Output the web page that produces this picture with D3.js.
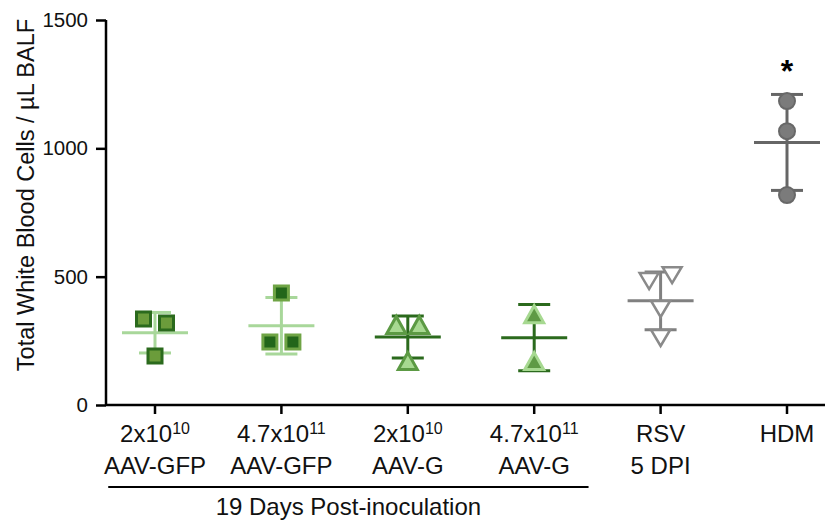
<!DOCTYPE html>
<html>
<head>
<meta charset="utf-8">
<script src="https://cdn.jsdelivr.net/npm/d3@7"></script>
<style>
  body { margin: 0; background: #fff; }
  svg { display: block; font-family: "Liberation Sans", Arial, Helvetica, sans-serif; }
</style>
</head>
<body>
<script>
// group labels (first line base + superscript, second line)
var labelBase = ["2x10", "4.7x10", "2x10", "4.7x10", "RSV", "HDM"];
var labelSup = ["10", "11", "10", "11", "", ""];
var labelLine2 = ["AAV-GFP", "AAV-GFP", "AAV-G", "AAV-G", "5 DPI", ""];

// individual animals, cells / uL BALF
var aavGfpLow = [335, 319, 191];
var aavGfpHigh = [436, 245, 245];
var aavGLow = [312, 312, 171];
var aavGHigh = [354, 171];
var rsv = [483, 506, 374, 261];
var hdm = [1184, 1067, 818];

var yTicks = [0, 500, 1000, 1500];
var bracketText = "19 Days Post-inoculation";
var yTitle = "Total White Blood Cells / \u00b5L BALF";

var seriesValues = [aavGfpLow, aavGfpHigh, aavGLow, aavGHigh, rsv, hdm];

// look of each group
var styles = [
  { shape: "square", fill: "#6b9c3b", stroke: "#2b6a1d", bar: "#a8d79a" },
  { shape: "square", fill: "#23661a", stroke: "#6fa445", bar: "#a8d79a" },
  { shape: "up", fill: "#a7d991", stroke: "#5c9a44", bar: "#2b6a1d" },
  { shape: "up", fill: "#5f9a45", stroke: "#a7d991", bar: "#2b6a1d" },
  { shape: "down", fill: "#ffffff", stroke: "#8a8a8a", bar: "#808080" },
  { shape: "circle", fill: "#7b7b7b", stroke: "#686868", bar: "#666666" }
];

var width = 825, height = 520;
var svg = d3.select("body").append("svg")
  .attr("width", width)
  .attr("height", height);

var x = d3.scalePoint().domain(d3.range(labelBase.length)).range([155, 787]);
var step = x.step();
var y = d3.scaleLinear().domain([0, 1500]).range([405, 20]);

// y axis
var yAxis = svg.append("g")
  .attr("transform", "translate(106,0)")
  .call(d3.axisLeft(y).tickValues(yTicks).tickFormat(d3.format("d")).tickSize(10).tickPadding(8));
yAxis.select(".domain").attr("stroke", "#000").attr("stroke-width", 2.5)
  .attr("d", "M0," + y(1500) + "V" + y(0));
yAxis.selectAll(".tick line").attr("stroke", "#000").attr("stroke-width", 2.5);
yAxis.selectAll(".tick text").attr("font-size", 20.5).attr("fill", "#111")
  .attr("font-family", "Liberation Sans, Arial, sans-serif");

// x axis line spans to the right edge
svg.append("line")
  .attr("x1", 106).attr("x2", width)
  .attr("y1", y(0)).attr("y2", y(0))
  .attr("stroke", "#000").attr("stroke-width", 2.5);

svg.selectAll(".xtick")
  .data(labelBase)
  .enter().append("line")
  .attr("class", "xtick")
  .attr("x1", function(d, i) { return x(i); })
  .attr("x2", function(d, i) { return x(i); })
  .attr("y1", y(0))
  .attr("y2", y(0) + 9)
  .attr("stroke", "#000").attr("stroke-width", 2.5);

// x labels, with superscript exponent
var lab1 = svg.selectAll(".lab1")
  .data(labelBase)
  .enter().append("text")
  .attr("class", "lab1")
  .attr("x", function(d, i) { return x(i); })
  .attr("y", 442)
  .attr("text-anchor", "middle")
  .attr("font-size", 24)
  .attr("fill", "#111");
lab1.append("tspan").text(function(d) { return d; });
lab1.append("tspan")
  .attr("font-size", 16)
  .attr("dy", -8)
  .text(function(d, i) { return labelSup[i]; });

svg.selectAll(".lab2")
  .data(labelLine2)
  .enter().append("text")
  .attr("class", "lab2")
  .attr("x", function(d, i) { return x(i); })
  .attr("y", 474)
  .attr("text-anchor", "middle")
  .attr("font-size", 24)
  .attr("fill", "#111")
  .text(function(d) { return d; });

// bracket under the four AAV groups
var bx1 = x(0) - step * 0.37, bx2 = x(3) + step * 0.43;
svg.append("line")
  .attr("x1", bx1).attr("x2", bx2)
  .attr("y1", 487).attr("y2", 487)
  .attr("stroke", "#000").attr("stroke-width", 2);
svg.append("text")
  .attr("x", (bx1 + bx2) / 2)
  .attr("y", 515)
  .attr("text-anchor", "middle")
  .attr("font-size", 24)
  .attr("fill", "#111")
  .text(bracketText);

// y title
svg.append("text")
  .attr("transform", "translate(34," + 195 + ") rotate(-90)")
  .attr("text-anchor", "middle")
  .attr("font-size", 23.5)
  .attr("fill", "#111")
  .text(yTitle);

// spread points that sit at nearly the same height
function spread(values) {
  var px = values.map(function(v) { return y(v); });
  var offs = values.map(function() { return 0; });
  var used = values.map(function() { return false; });
  for (var i = 0; i < values.length; i++) {
    if (used[i]) continue;
    var cluster = [i];
    used[i] = true;
    for (var j = i + 1; j < values.length; j++) {
      if (!used[j] && Math.abs(px[j] - px[i]) < 17) { cluster.push(j); used[j] = true; }
    }
    cluster.forEach(function(k, n) { offs[k] = (n - (cluster.length - 1) / 2) * 23; });
  }
  return offs;
}

function symbolPath(shape) {
  if (shape === "up") return "M0,-8.5L9.5,8.5L-9.5,8.5Z";
  if (shape === "down") return "M0,8L9.5,-8L-9.5,-8Z";
  if (shape === "square") return "M-7,-7H7V7H-7Z";
  return d3.symbol().type(d3.symbolCircle).size(Math.PI * 64)();
}

seriesValues.forEach(function(vals, gi) {
  var st = styles[gi];
  var cx = x(gi);
  var m = d3.mean(vals), sd = d3.deviation(vals);
  var g = svg.append("g");

  // mean and SD bars
  g.append("line")
    .attr("x1", cx).attr("x2", cx)
    .attr("y1", y(m + sd)).attr("y2", y(m - sd))
    .attr("stroke", st.bar).attr("stroke-width", 3);
  [m + sd, m - sd].forEach(function(v) {
    g.append("line")
      .attr("x1", cx - 16).attr("x2", cx + 16)
      .attr("y1", y(v)).attr("y2", y(v))
      .attr("stroke", st.bar).attr("stroke-width", 3);
  });
  g.append("line")
    .attr("x1", cx - 33).attr("x2", cx + 33)
    .attr("y1", y(m)).attr("y2", y(m))
    .attr("stroke", st.bar).attr("stroke-width", 3);

  var offs = spread(vals);
  g.selectAll("path.pt")
    .data(vals)
    .enter().append("path")
    .attr("class", "pt")
    .attr("d", symbolPath(st.shape))
    .attr("transform", function(d, i) { return "translate(" + (cx + offs[i]) + "," + y(d) + ")"; })
    .attr("fill", st.fill)
    .attr("stroke", st.stroke)
    .attr("stroke-width", st.shape === "circle" ? 2 : (st.shape === "down" ? 2.5 : 3))
    .attr("stroke-linejoin", "miter");

  // significance mark for HDM
  if (st.shape === "circle") {
    svg.append("text")
      .attr("x", cx)
      .attr("y", y(m + sd) - 12)
      .attr("text-anchor", "middle")
      .attr("font-size", 32)
      .attr("font-weight", "bold")
      .attr("fill", "#000")
      .text("*");
  }
});
</script>
</body>
</html>
